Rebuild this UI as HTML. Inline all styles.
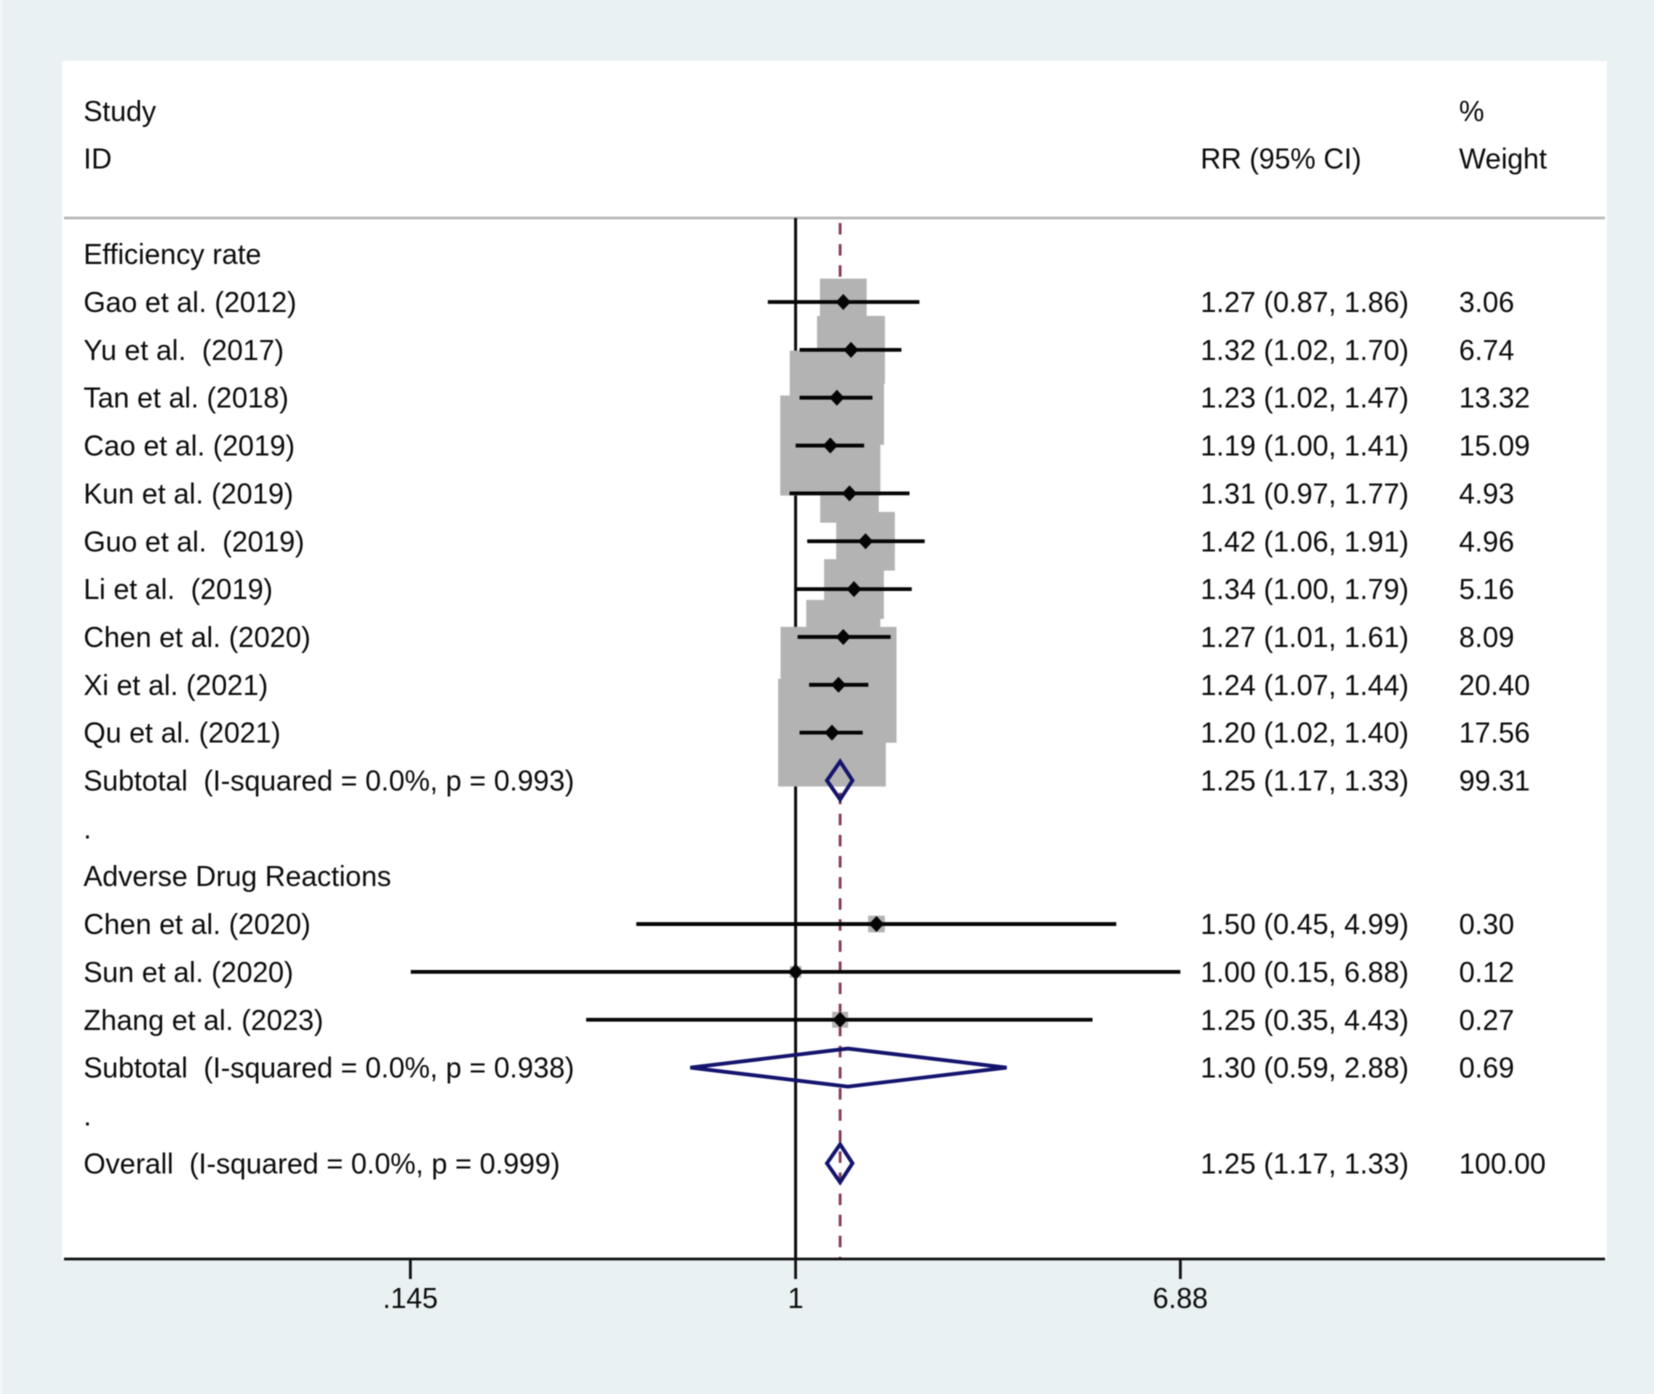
<!DOCTYPE html>
<html lang="en">
<head>
<meta charset="utf-8">
<title>Forest plot: Efficiency rate and Adverse Drug Reactions</title>
<style>
html,body{margin:0;padding:0;background:#e9f1f3;}
svg{display:block;filter:blur(0.45px);}
text{font-family:"Liberation Sans",Arial,sans-serif;font-size:28.4px;fill:#0c0c0c;white-space:pre;}
</style>
</head>
<body>
<svg id="chart" xmlns="http://www.w3.org/2000/svg" width="1654" height="1394" viewBox="0 0 1654 1394" xml:space="preserve">
  <rect x="-5" y="-5" width="1664" height="1404" fill="#e9f1f3"/>
  <rect x="0" y="0" width="2" height="1394" fill="#f5f9fa"/>
  <rect x="62" y="61" width="1545" height="1198" fill="#ffffff"/>
  <line x1="64" y1="218" x2="1605" y2="218" stroke="#b8b8b8" stroke-width="2.8"/>
  <text x="83.5" y="121">Study</text>
  <text x="83.5" y="168.5">ID</text>
  <text x="1200.5" y="168.5">RR (95% CI)</text>
  <text x="1459" y="121">%</text>
  <text x="1459" y="168.5">Weight</text>
  <g id="marks"></g>
</svg>
<script>
const effLabels = ["Gao et al. (2012)","Yu et al.  (2017)","Tan et al. (2018)","Cao et al. (2019)","Kun et al. (2019)","Guo et al.  (2019)","Li et al.  (2019)","Chen et al. (2020)","Xi et al. (2021)","Qu et al. (2021)"];
const effRR = [1.27,1.32,1.23,1.19,1.31,1.42,1.34,1.27,1.24,1.20];
const effLow = [0.87,1.02,1.02,1.00,0.97,1.06,1.00,1.01,1.07,1.02];
const effHigh = [1.86,1.70,1.47,1.41,1.77,1.91,1.79,1.61,1.44,1.40];
const effWeight = [3.06,6.74,13.32,15.09,4.93,4.96,5.16,8.09,20.40,17.56];

const adrLabels = ["Chen et al. (2020)","Sun et al. (2020)","Zhang et al. (2023)"];
const adrRR = [1.50,1.00,1.25];
const adrLow = [0.45,0.1453,0.35];
const adrHigh = [4.99,6.88,4.43];
const adrWeight = [0.30,0.12,0.27];

const summaryLabels = ["Subtotal  (I-squared = 0.0%, p = 0.993)","Subtotal  (I-squared = 0.0%, p = 0.938)","Overall  (I-squared = 0.0%, p = 0.999)"];
const summaryRR = [1.25,1.30,1.25];
const summaryLow = [1.17,0.59,1.17];
const summaryHigh = [1.33,2.88,1.33];
const summaryWeight = ["99.31","0.69","100.00"];

const groupTitles = ["Efficiency rate","Adverse Drug Reactions"];
const tickValues = [0.145,1,6.88];
const tickLabels = [".145","1","6.88"];
const overallEffect = 1.25;

const NS = "http://www.w3.org/2000/svg";
const root = document.getElementById("marks");
const xScale = v => 795.6 + 199.5 * Math.log(v);
const yRow = i => 302 + 47.85 * i;
const boxSide = w => 25 * Math.sqrt(w) + 3;

function make(tag, attrs, parent) {
  const el = document.createElementNS(NS, tag);
  for (const k in attrs) el.setAttribute(k, attrs[k]);
  (parent || root).appendChild(el);
  return el;
}
function addText(str, x, y, anchor) {
  const el = make("text", {x: x, y: y, "text-anchor": anchor || "start"});
  el.textContent = str;
  return el;
}
const ciText = (r, l, h) => r.toFixed(2) + " (" + l.toFixed(2) + ", " + h.toFixed(2) + ")";

const axisY = 1259;
const topY = 218;

// reference lines
const nullLine = make("line", {x1: xScale(1), y1: topY, x2: xScale(1), y2: axisY, stroke: "#0c0c0c", "stroke-width": 3});


const overallLine = make("line", {x1: xScale(overallEffect), y1: 223, x2: xScale(overallEffect), y2: axisY, stroke: "#853a58", "stroke-width": 2.8, "stroke-dasharray": "11.5 9.6"});



// study rows
function drawStudies(labels, rr, low, high, weight, startRow, groupName) {
  const squares = make("g", {});
  
  
  rr.forEach((r, i) => {
    const s = boxSide(weight[i]);
    const box = make("rect", {x: xScale(r) - s / 2, y: yRow(startRow + i) - s / 2, width: s, height: s, fill: "#b3b3b3"}, squares);
    
    
  });
}
function drawStudyMarks(labels, rr, low, high, weight, startRow) {
  rr.forEach((r, i) => {
    const y = yRow(startRow + i);
    const x = xScale(r);
    const ci = make("line", {x1: xScale(low[i]), y1: y, x2: xScale(high[i]), y2: y, stroke: "#050505", "stroke-width": 3.8});
    
    
    const pt = make("polygon", {points: [[x - 7.5, y], [x, y - 8], [x + 7.5, y], [x, y + 8]].map(p => p.join(",")).join(" "), fill: "#050505"});
    
    
    const name = addText(labels[i], 83.5, y + 10);
    
    
    const val = addText(ciText(r, low[i], high[i]), 1200.5, y + 10);
    
    
    const wt = addText(weight[i].toFixed(2), 1459, y + 10);
    
    
  });
}
drawStudies(effLabels, effRR, effLow, effHigh, effWeight, 0, 'efficiency');
drawStudies(adrLabels, adrRR, adrLow, adrHigh, adrWeight, 13, 'adverse');
drawStudyMarks(effLabels, effRR, effLow, effHigh, effWeight, 0);
drawStudyMarks(adrLabels, adrRR, adrLow, adrHigh, adrWeight, 13);

// group titles and spacer dots
[[groupTitles[0], -1], [groupTitles[1], 12]].forEach(g => {
  const t = addText(g[0], 83.5, yRow(g[1]) + 10);
  
  
});
[11, 17].forEach(r => {
  const d = addText(".", 83.5, yRow(r) + 10);
  
  
});

// summary rows
const summaryRows = [10, 16, 18];
summaryRR.forEach((r, i) => {
  const y = yRow(summaryRows[i]);
  const h = 19;
  const pts = [[xScale(summaryLow[i]), y], [xScale(r), y - h], [xScale(summaryHigh[i]), y], [xScale(r), y + h]];
  const dia = make("polygon", {points: pts.map(p => p.join(",")).join(" "), fill: "none", stroke: "#14146e", "stroke-width": 3.8});
  
  
  const name = addText(summaryLabels[i], 83.5, y + 10);
  
  
  const val = addText(ciText(r, summaryLow[i], summaryHigh[i]), 1200.5, y + 10);
  
  
  const wt = addText(summaryWeight[i], 1459, y + 10);
  
  
});

// x axis
const axisLine = make("line", {x1: 64, y1: axisY, x2: 1605, y2: axisY, stroke: "#111", "stroke-width": 2.8});


tickValues.forEach((v, i) => {
  const tick = make("line", {x1: xScale(v), y1: axisY, x2: xScale(v), y2: 1279, stroke: "#111", "stroke-width": 2.8});
  
  
  const lab = addText(tickLabels[i], xScale(v), 1308, "middle");
  
  
});
</script>
</body>
</html>
